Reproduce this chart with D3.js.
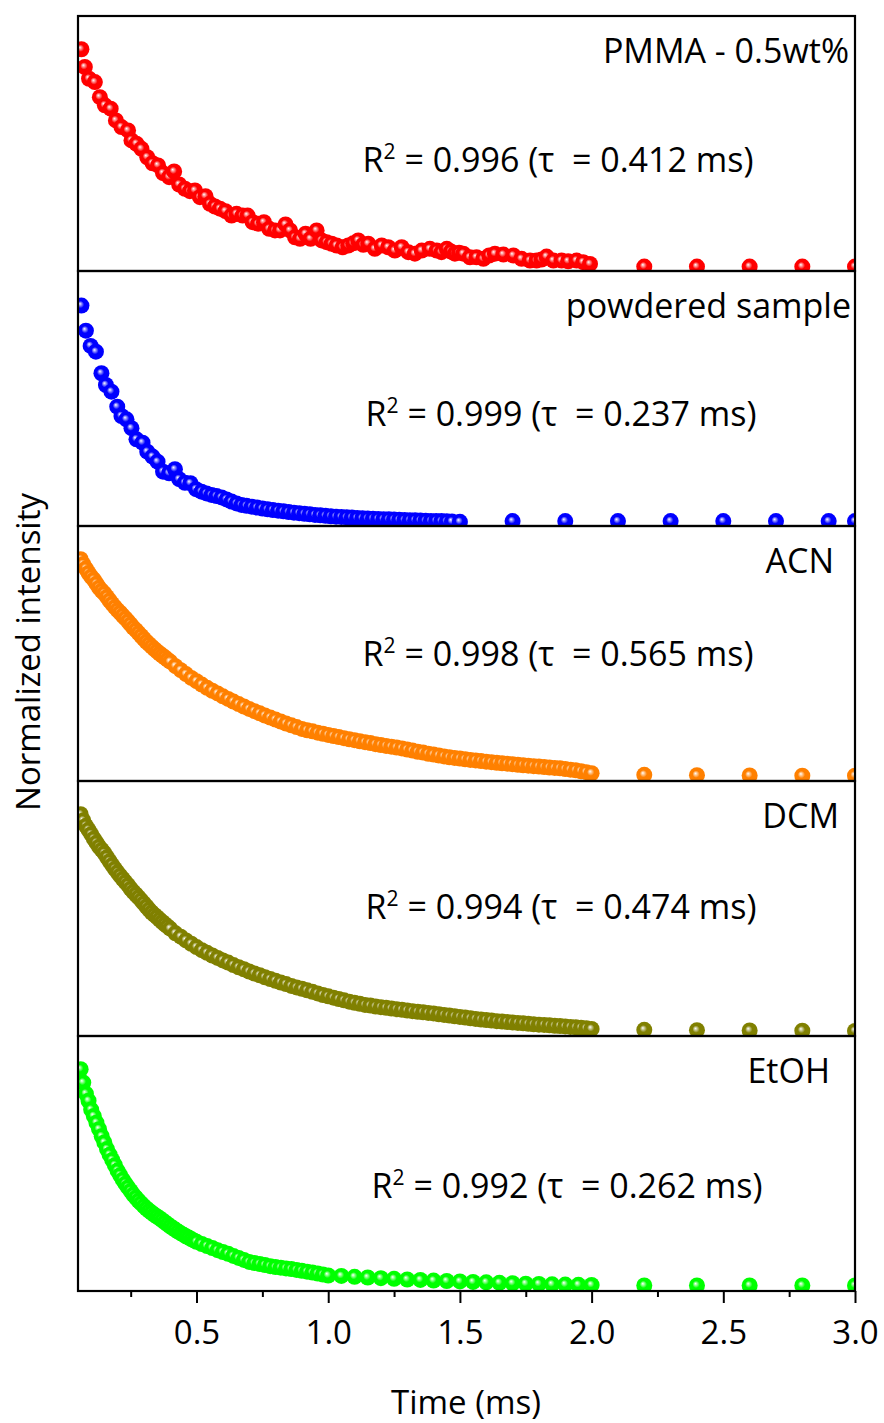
<!DOCTYPE html>
<html>
<head>
<meta charset="utf-8">
<script src="https://cdn.jsdelivr.net/npm/d3@7"></script>
<style>
  body { margin: 0; background: #fff; }
  text { font-family: "Open Sans", sans-serif; fill: #000; }
</style>
</head>
<body>
<svg id="chart" width="884" height="1423"></svg>
<script>
// ---- data (intensity normalized to the first point) ----
const panelNames = ['PMMA - 0.5wt%', 'powdered sample', 'ACN', 'DCM', 'EtOH']
const panelColors = ['#ff0000', '#0000ff', '#ff8000', '#808000', '#00ff00']
const fitR2 = ['0.996', '0.999', '0.998', '0.994', '0.992']
const fitTau = ['0.412', '0.237', '0.565', '0.474', '0.262']
const xTickLabels = ['0.5', '1.0', '1.5', '2.0', '2.5', '3.0']
const xMinorTicks = [0.25, 0.75, 1.25, 1.75, 2.25, 2.75]

const pmmaTime = [0.063, 0.076, 0.092, 0.114, 0.133, 0.152, 0.174, 0.194, 0.215, 0.24, 0.253, 0.272, 0.291, 0.313, 0.333, 0.354, 0.373, 0.396, 0.415, 0.434, 0.456, 0.475, 0.494, 0.513, 0.534, 0.551, 0.57, 0.589, 0.61, 0.633, 0.652, 0.675, 0.694, 0.713, 0.734, 0.756, 0.776, 0.798, 0.817, 0.838, 0.855, 0.874, 0.893, 0.914, 0.933, 0.956, 0.975, 0.994, 1.013, 1.032, 1.055, 1.076, 1.095, 1.114, 1.133, 1.152, 1.177, 1.203, 1.228, 1.253, 1.279, 1.304, 1.329, 1.355, 1.386, 1.412, 1.43, 1.45, 1.466, 1.481, 1.497, 1.513, 1.538, 1.563, 1.589, 1.611, 1.633, 1.665, 1.703, 1.734, 1.766, 1.791, 1.81, 1.829, 1.855, 1.886, 1.911, 1.943, 1.968, 1.994, 2.2, 2.4, 2.6, 2.8, 3.0]
const pmmaIntensity = [1.0, 0.92, 0.867, 0.852, 0.784, 0.747, 0.732, 0.679, 0.649, 0.634, 0.589, 0.574, 0.551, 0.513, 0.486, 0.476, 0.441, 0.423, 0.449, 0.39, 0.371, 0.36, 0.363, 0.333, 0.337, 0.303, 0.291, 0.281, 0.27, 0.25, 0.258, 0.25, 0.25, 0.22, 0.213, 0.22, 0.19, 0.183, 0.183, 0.21, 0.183, 0.152, 0.145, 0.168, 0.145, 0.183, 0.138, 0.13, 0.123, 0.115, 0.107, 0.115, 0.125, 0.138, 0.118, 0.123, 0.1, 0.115, 0.107, 0.092, 0.107, 0.085, 0.078, 0.092, 0.1, 0.092, 0.085, 0.1, 0.088, 0.078, 0.082, 0.078, 0.062, 0.062, 0.055, 0.07, 0.078, 0.074, 0.07, 0.055, 0.047, 0.047, 0.052, 0.065, 0.047, 0.047, 0.044, 0.047, 0.04, 0.032, 0.02, 0.02, 0.02, 0.02, 0.02]

const powderTime = [0.063, 0.08, 0.098, 0.118, 0.139, 0.156, 0.177, 0.199, 0.215, 0.234, 0.253, 0.272, 0.295, 0.313, 0.333, 0.352, 0.373, 0.396, 0.418, 0.434, 0.456, 0.477, 0.498, 0.519, 0.538, 0.557, 0.576, 0.595, 0.614, 0.633, 0.652, 0.671, 0.69, 0.71, 0.73, 0.75, 0.77, 0.79, 0.81, 0.83, 0.85, 0.87, 0.89, 0.91, 0.93, 0.95, 0.97, 0.99, 1.01, 1.03, 1.05, 1.07, 1.09, 1.11, 1.13, 1.15, 1.17, 1.19, 1.21, 1.23, 1.25, 1.27, 1.29, 1.31, 1.33, 1.35, 1.37, 1.39, 1.41, 1.43, 1.45, 1.47, 1.5, 1.7, 1.9, 2.1, 2.3, 2.5, 2.7, 2.9, 3.0]
const powderIntensity = [0.994, 0.881, 0.812, 0.786, 0.689, 0.636, 0.606, 0.538, 0.496, 0.481, 0.441, 0.391, 0.376, 0.335, 0.313, 0.29, 0.245, 0.238, 0.256, 0.211, 0.195, 0.193, 0.166, 0.155, 0.147, 0.14, 0.135, 0.129, 0.12, 0.11, 0.102, 0.095, 0.091, 0.087, 0.083, 0.079, 0.075, 0.072, 0.069, 0.066, 0.063, 0.06, 0.058, 0.055, 0.053, 0.05, 0.048, 0.046, 0.044, 0.042, 0.041, 0.039, 0.038, 0.036, 0.035, 0.034, 0.033, 0.032, 0.031, 0.03, 0.029, 0.028, 0.027, 0.026, 0.026, 0.025, 0.024, 0.023, 0.023, 0.022, 0.021, 0.02, 0.019, 0.022, 0.022, 0.022, 0.022, 0.022, 0.022, 0.022, 0.022]

const acnTime = [0.06, 0.07, 0.08, 0.09, 0.1, 0.11, 0.12, 0.13, 0.14, 0.15, 0.16, 0.17, 0.18, 0.19, 0.2, 0.21, 0.22, 0.23, 0.24, 0.25, 0.26, 0.27, 0.28, 0.29, 0.3, 0.31, 0.32, 0.33, 0.34, 0.35, 0.36, 0.37, 0.38, 0.39, 0.4, 0.42, 0.44, 0.46, 0.48, 0.5, 0.52, 0.54, 0.56, 0.58, 0.6, 0.62, 0.64, 0.66, 0.68, 0.7, 0.72, 0.74, 0.76, 0.78, 0.8, 0.82, 0.84, 0.86, 0.88, 0.9, 0.92, 0.94, 0.96, 0.98, 1.0, 1.02, 1.04, 1.06, 1.08, 1.1, 1.12, 1.14, 1.16, 1.18, 1.2, 1.22, 1.24, 1.26, 1.28, 1.3, 1.32, 1.34, 1.36, 1.38, 1.4, 1.42, 1.44, 1.46, 1.48, 1.5, 1.52, 1.54, 1.56, 1.58, 1.6, 1.62, 1.64, 1.66, 1.68, 1.7, 1.72, 1.74, 1.76, 1.78, 1.8, 1.82, 1.84, 1.86, 1.88, 1.9, 1.92, 1.94, 1.96, 1.98, 2.0, 2.2, 2.4, 2.6, 2.8, 3.0]
const acnIntensity = [1.0, 0.978, 0.958, 0.938, 0.922, 0.908, 0.89, 0.872, 0.858, 0.846, 0.83, 0.814, 0.799, 0.784, 0.771, 0.759, 0.746, 0.733, 0.72, 0.706, 0.692, 0.68, 0.667, 0.654, 0.641, 0.628, 0.617, 0.606, 0.595, 0.585, 0.575, 0.566, 0.557, 0.547, 0.538, 0.518, 0.5, 0.482, 0.465, 0.45, 0.435, 0.42, 0.407, 0.395, 0.382, 0.37, 0.358, 0.347, 0.336, 0.325, 0.315, 0.305, 0.295, 0.286, 0.277, 0.268, 0.259, 0.251, 0.243, 0.235, 0.229, 0.224, 0.218, 0.213, 0.208, 0.203, 0.198, 0.193, 0.188, 0.184, 0.179, 0.175, 0.171, 0.166, 0.162, 0.158, 0.155, 0.151, 0.147, 0.142, 0.137, 0.132, 0.128, 0.123, 0.119, 0.115, 0.111, 0.107, 0.104, 0.101, 0.098, 0.095, 0.093, 0.09, 0.087, 0.085, 0.082, 0.08, 0.078, 0.076, 0.073, 0.071, 0.069, 0.067, 0.065, 0.063, 0.061, 0.059, 0.057, 0.054, 0.051, 0.048, 0.044, 0.04, 0.035, 0.028, 0.026, 0.025, 0.024, 0.024]

const dcmTime = acnTime
const dcmIntensity = [1.0, 0.972, 0.948, 0.93, 0.91, 0.89, 0.872, 0.854, 0.839, 0.825, 0.806, 0.788, 0.771, 0.754, 0.738, 0.723, 0.708, 0.694, 0.68, 0.664, 0.65, 0.638, 0.625, 0.612, 0.598, 0.584, 0.57, 0.557, 0.546, 0.536, 0.525, 0.514, 0.504, 0.494, 0.484, 0.463, 0.448, 0.431, 0.416, 0.401, 0.387, 0.375, 0.363, 0.352, 0.341, 0.331, 0.32, 0.31, 0.301, 0.291, 0.282, 0.274, 0.265, 0.257, 0.249, 0.241, 0.234, 0.226, 0.219, 0.213, 0.206, 0.199, 0.192, 0.185, 0.179, 0.173, 0.167, 0.161, 0.155, 0.15, 0.145, 0.14, 0.137, 0.133, 0.13, 0.127, 0.124, 0.121, 0.118, 0.115, 0.112, 0.109, 0.107, 0.104, 0.102, 0.098, 0.095, 0.092, 0.089, 0.086, 0.083, 0.08, 0.077, 0.074, 0.072, 0.07, 0.067, 0.065, 0.063, 0.061, 0.059, 0.057, 0.055, 0.053, 0.051, 0.05, 0.048, 0.046, 0.045, 0.043, 0.041, 0.039, 0.037, 0.035, 0.032, 0.028, 0.026, 0.025, 0.024, 0.023]

const etohTime = [0.06, 0.07, 0.08, 0.09, 0.1, 0.11, 0.12, 0.13, 0.14, 0.15, 0.16, 0.17, 0.18, 0.19, 0.2, 0.21, 0.22, 0.23, 0.24, 0.25, 0.26, 0.27, 0.28, 0.29, 0.3, 0.31, 0.32, 0.33, 0.34, 0.35, 0.36, 0.37, 0.38, 0.39, 0.4, 0.41, 0.42, 0.43, 0.44, 0.45, 0.46, 0.47, 0.48, 0.49, 0.5, 0.52, 0.54, 0.56, 0.58, 0.6, 0.62, 0.64, 0.66, 0.68, 0.7, 0.72, 0.74, 0.76, 0.78, 0.8, 0.82, 0.84, 0.86, 0.88, 0.9, 0.92, 0.94, 0.96, 0.98, 1.0, 1.05, 1.1, 1.15, 1.2, 1.25, 1.3, 1.35, 1.4, 1.45, 1.5, 1.55, 1.6, 1.65, 1.7, 1.75, 1.8, 1.85, 1.9, 1.95, 2.0, 2.2, 2.4, 2.6, 2.8, 3.0]
const etohIntensity = [1.0, 0.94, 0.89, 0.858, 0.818, 0.789, 0.759, 0.73, 0.698, 0.67, 0.64, 0.615, 0.591, 0.567, 0.543, 0.522, 0.502, 0.484, 0.467, 0.451, 0.435, 0.421, 0.407, 0.395, 0.383, 0.372, 0.362, 0.353, 0.344, 0.336, 0.328, 0.319, 0.31, 0.301, 0.292, 0.284, 0.276, 0.268, 0.261, 0.254, 0.247, 0.241, 0.234, 0.228, 0.222, 0.212, 0.203, 0.194, 0.184, 0.176, 0.168, 0.158, 0.149, 0.14, 0.131, 0.126, 0.122, 0.117, 0.112, 0.108, 0.105, 0.102, 0.099, 0.095, 0.091, 0.087, 0.083, 0.079, 0.074, 0.07, 0.068, 0.064, 0.061, 0.058, 0.055, 0.052, 0.05, 0.047, 0.045, 0.043, 0.041, 0.039, 0.037, 0.035, 0.033, 0.032, 0.03, 0.029, 0.028, 0.027, 0.025, 0.025, 0.025, 0.025, 0.025]

const seriesTimes = [pmmaTime, powderTime, acnTime, dcmTime, etohTime]
const seriesValues = [pmmaIntensity, powderIntensity, acnIntensity, dcmIntensity, etohIntensity]

// ---- layout ----
const plotLeft = 78, plotRight = 855
const plotTop = 16, panelH = 255
const plotBottom = plotTop + panelH * 5
const fs = 34
const tickFs = 33
const dotR = 8

const svg = d3.select('#chart')
const defs = svg.append('defs')

const x = d3.scaleLinear().domain([0.05, 3.0]).range([plotLeft, plotRight])

// shiny ball gradients
panelColors.forEach((c, i) => {
  const g = defs.append('radialGradient')
    .attr('id', 'ball' + i)
    .attr('cx', '50%').attr('cy', '50%').attr('r', '50%')
    .attr('fx', '40%').attr('fy', '38%')
  g.append('stop').attr('offset', '0%').attr('stop-color', '#ffffff')
  g.append('stop').attr('offset', '12%').attr('stop-color', d3.interpolateRgb(c, '#fff')(0.72))
  g.append('stop').attr('offset', '45%').attr('stop-color', c)
  g.append('stop').attr('offset', '100%').attr('stop-color', c)
})

panelNames.forEach((name, i) => {
  const y0 = plotTop + panelH * i
  const y = d3.scaleLinear().domain([0, 1.15]).range([y0 + panelH, y0])

  defs.append('clipPath').attr('id', 'clip' + i)
    .append('rect')
    .attr('x', plotLeft).attr('y', y0)
    .attr('width', plotRight - plotLeft).attr('height', panelH)

  const pts = seriesTimes[i].map((t, k) => ({ t: t, v: seriesValues[i][k] }))

  svg.append('g')
    .attr('clip-path', 'url(#clip' + i + ')')
    .selectAll('circle')
    .data(pts)
    .enter()
    .append('circle')
    .attr('cx', d => x(d.t))
    .attr('cy', d => y(d.v))
    .attr('r', dotR)
    .attr('fill', 'url(#ball' + i + ')')

  // panel frame
  svg.append('rect')
    .attr('x', plotLeft).attr('y', y0)
    .attr('width', plotRight - plotLeft).attr('height', panelH)
    .attr('fill', 'none')
    .attr('stroke', '#000')
    .attr('stroke-width', 2.2)

  // sample label
  svg.append('text')
    .attr('x', [849, 851, 834, 839, 830][i])
    .attr('y', y0 + 47)
    .attr('text-anchor', 'end')
    .style('font-size', fs + 'px')
    .text(name)

  // fit label
  const lab = svg.append('text')
    .attr('x', [558, 561, 558, 561, 567][i])
    .attr('y', y0 + [156, 155, 140, 138, 162][i])
    .attr('text-anchor', 'middle')
    .style('font-size', fs + 'px')
    .style('white-space', 'pre')
  lab.append('tspan').text('R')
  lab.append('tspan').attr('dy', -13).style('font-size', (fs * 0.62) + 'px').text('2')
  lab.append('tspan').attr('dy', 13).text(' = ' + fitR2[i] + ' (τ\u00a0 = ' + fitTau[i] + ' ms)')
})

// ---- bottom axis ----
const xAxis = d3.axisBottom(x)
  .tickValues(xTickLabels.map(Number))
  .tickFormat((d, i) => xTickLabels[i])
  .tickSize(12)

svg.append('g')
  .attr('transform', `translate(0,${plotBottom})`)
  .call(xAxis)
  .call(g => g.select('.domain').remove())
  .call(g => g.selectAll('.tick line').attr('stroke', '#000').attr('stroke-width', 2))
  .call(g => g.selectAll('.tick text')
    .attr('dy', null)
    .attr('y', 53)
    .style('font-family', '"Open Sans", sans-serif')
    .style('font-size', tickFs + 'px'))

svg.append('g')
  .attr('transform', `translate(0,${plotBottom})`)
  .call(d3.axisBottom(x).tickValues(xMinorTicks).tickFormat('').tickSize(6))
  .call(g => g.select('.domain').remove())
  .call(g => g.selectAll('.tick line').attr('stroke', '#000').attr('stroke-width', 2))

// axis titles
svg.append('text')
  .attr('x', 466)
  .attr('y', 1414)
  .attr('text-anchor', 'middle')
  .style('font-size', tickFs + 'px')
  .text('Time (ms)')

svg.append('text')
  .attr('transform', 'translate(40,652) rotate(-90)')
  .attr('text-anchor', 'middle')
  .style('font-size', tickFs + 'px')
  .text('Normalized intensity')
</script>
</body>
</html>
